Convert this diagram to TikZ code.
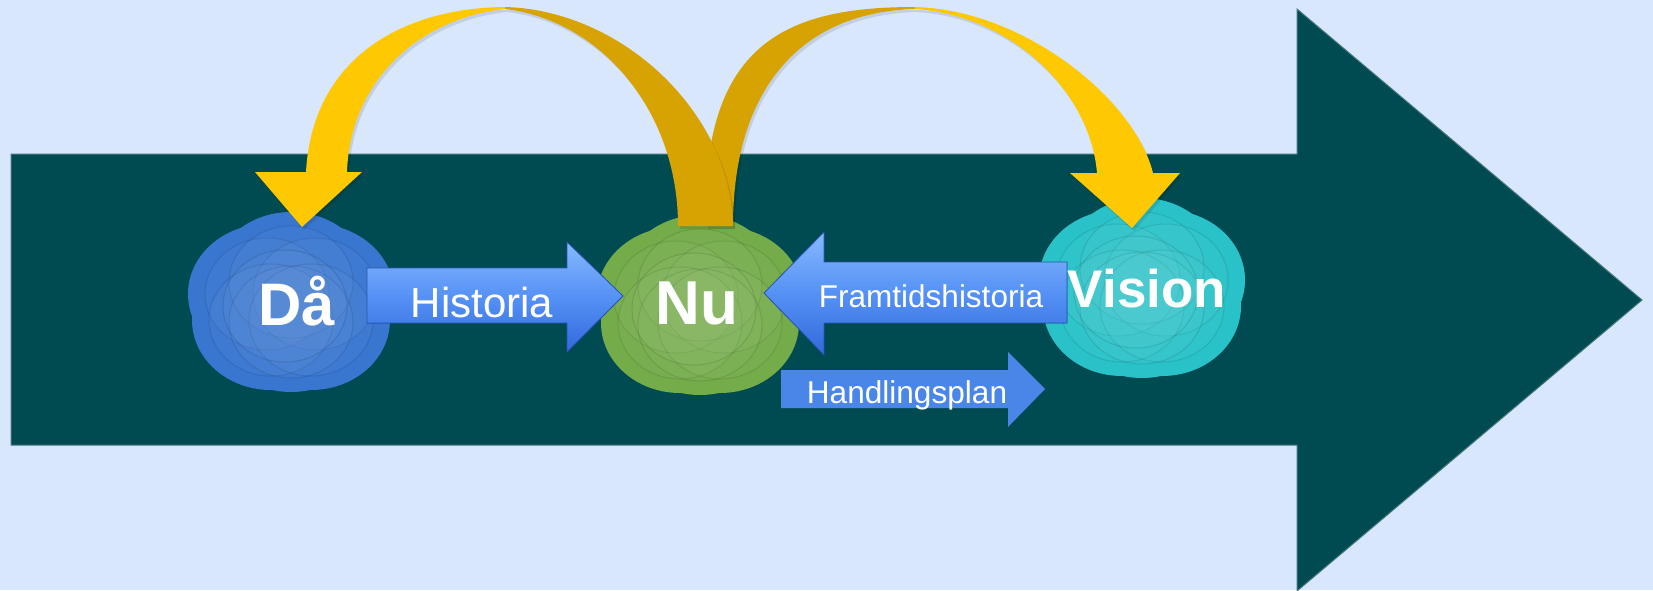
\documentclass[tikz,border=0pt]{standalone}
\usepackage{fontspec}
\setmainfont{Liberation Sans}
\definecolor{bgc}{RGB}{217,231,252}
\definecolor{teal}{RGB}{0,74,82}
\definecolor{tealedge}{RGB}{70,120,130}
\definecolor{yel}{RGB}{254,200,2}
\definecolor{gold}{RGB}{214,163,3}
\definecolor{blobblue}{RGB}{56,118,208}
\definecolor{blobgreen}{RGB}{116,172,74}
\definecolor{blobteal}{RGB}{40,194,200}
\definecolor{arrtop}{RGB}{135,185,255}
\definecolor{arrmid}{RGB}{85,145,245}
\definecolor{arrbot}{RGB}{50,105,220}
\definecolor{flatblue}{RGB}{74,134,232}
\newcommand{\myblob}[4]{%
  \begin{scope}[shift={(#2,#3)}]
    \fill[#4] (0,0) ellipse [x radius=98, y radius=84];
    \foreach \dx/\dy in {-24/-8,24/-8,0/-20,-20/18,20/18,0/20}
      \fill[#4] (\dx,\dy) ellipse [x radius=79, y radius=70];
    \foreach \dx/\dy in {-24/-8,24/-8,0/-20,-20/18,20/18,0/20,-6/4}
      \fill[#4!72!white, fill opacity=0.12, draw=#4!50!black, draw opacity=0.2, line width=0.5pt]
        (\dx,\dy) ellipse [x radius=62, y radius=56];
  \end{scope}
  \coordinate (#1) at (#2,#3);
}
\begin{document}
\begin{tikzpicture}[x=0.5pt,y=-0.5pt,
  blocktxt/.style={text=white, anchor=base, inner sep=0pt},
  bigtxt/.style={text=white, anchor=base, inner sep=0pt, font=\bfseries},
  shadedarrow/.style={top color=arrtop, bottom color=arrbot, middle color=arrmid, draw=arrbot!80!black, line width=0.4pt},
  arcshadow/.style={fill=black, fill opacity=0.1}]
\useasboundingbox (0,0) rectangle (1653,590);
\fill[bgc] (0,0) rectangle (1653,590);
% big arrow
\fill[teal, draw=tealedge, line width=0.5pt] (11,154) -- (1297,154) -- (1297,9) -- (1642,300) -- (1297,591) -- (1297,445) -- (11,445) -- cycle;
% blobs
\myblob{da}{291}{302}{blobblue}
\myblob{nu}{700}{305}{blobgreen}
\myblob{vis}{1142}{288}{blobteal}
% block arrows
\fill[shadedarrow] (367,268) -- (567,268) -- (567,242) -- (623,296) -- (567,352) -- (567,323) -- (367,323) -- cycle;
\fill[shadedarrow] (1067,262) -- (824,262) -- (824,232) -- (764,293) -- (824,355) -- (824,323) -- (1067,323) -- cycle;
\fill[flatblue] (781,370) -- (1008,370) -- (1008,352) -- (1045,389) -- (1008,427) -- (1008,408) -- (781,408) -- cycle;
% arc 2 (Nu -> Vision)
\begin{scope}[shift={(2,3)}]
\fill[arcshadow] (706,226) .. controls (700,40) and (790,7) .. (915,7)
   .. controls (1025,10) and (1135,100) .. (1153,173) -- (1180,173) -- (1132,228) -- (1070,173) -- (1097,173)
   .. controls (1090,90) and (1010,15) .. (915,9) .. controls (800,12) and (733,90) .. (733,226) -- cycle;
\end{scope}
\fill[gold] (706,226) .. controls (700,40) and (790,7) .. (915,7)
   -- (915,9) .. controls (800,12) and (733,90) .. (733,226) -- cycle;
\fill[yel] (915,7) .. controls (1025,10) and (1135,100) .. (1153,173)
   -- (1097,173) .. controls (1090,90) and (1010,15) .. (915,9) -- cycle;
\fill[yel] (1070,173) -- (1180,173) -- (1132,228) -- cycle;
% arc 1 (Nu -> Då)
\begin{scope}[shift={(2,3)}]
\fill[arcshadow] (733,226) .. controls (730,110) and (620,10) .. (505,7)
   .. controls (400,8) and (312,60) .. (306,172) -- (255,172) -- (302,227) -- (362,172) -- (347,172)
   .. controls (350,80) and (420,18) .. (505,9) .. controls (600,20) and (678,110) .. (678,226) -- cycle;
\end{scope}
\fill[gold] (505,7) .. controls (620,10) and (730,110) .. (733,226)
   -- (678,226) .. controls (678,110) and (600,20) .. (505,9) -- cycle;
\fill[yel] (306,172) .. controls (312,60) and (400,8) .. (505,7)
   -- (505,9) .. controls (420,18) and (350,80) .. (347,172) -- cycle;
\fill[yel] (255,172) -- (362,172) -- (302,227) -- cycle;
% texts
\node[bigtxt, font=\bfseries\fontsize{30}{30}\selectfont] (tda) at (297,325) {Då};
\node[bigtxt, font=\bfseries\fontsize{31}{31}\selectfont] (tnu) at (697,324) {Nu};
\node[bigtxt, font=\bfseries\fontsize{26.5}{26.5}\selectfont] (tvis) at (1147,307) {Vision};
\node[blocktxt, font=\fontsize{21}{21}\selectfont] (thist) at (482,317) {Historia};
\node[blocktxt, font=\fontsize{15.75}{15.75}\selectfont] (tfram) at (931,307) {Framtidshistoria};
\node[blocktxt, font=\fontsize{15.8}{15.8}\selectfont] (thand) at (907,403) {Handlingsplan};
\end{tikzpicture}
\end{document}
